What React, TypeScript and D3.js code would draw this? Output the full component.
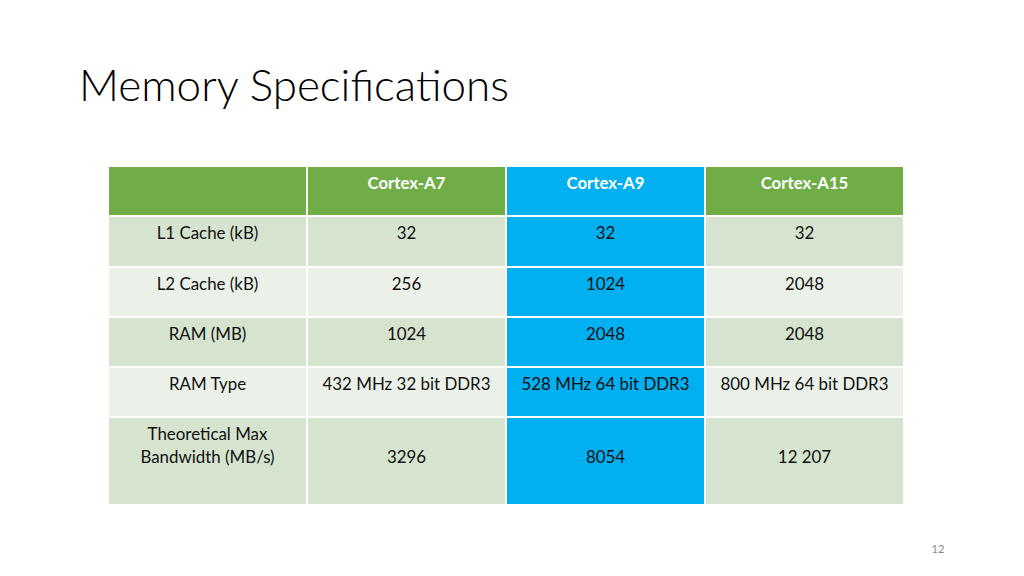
import React from "react";
import * as d3 from "d3";

const title = "Memory Specifications";
const columns = ["", "Cortex-A7", "Cortex-A9", "Cortex-A15"];
const rowLabels = [["L1 Cache (kB)"], ["L2 Cache (kB)"], ["RAM (MB)"], ["RAM Type"], ["Theoretical Max", "Bandwidth (MB/s)"]];
const cortexA7 = ["32", "256", "1024", "432 MHz 32 bit DDR3", "3296"];
const cortexA9 = ["32", "1024", "2048", "528 MHz 64 bit DDR3", "8054"];
const cortexA15 = ["32", "2048", "2048", "800 MHz 64 bit DDR3", "12 207"];
const pageNumber = "12";

const W = 1024, H = 576;
const FONT = "Lato, 'Open Sans', sans-serif";

export default function App() {
  const x = d3.scaleBand<string>().domain(columns.map((c, i) => String(i))).range([108, 904]).paddingInner(0);
  const rowH = [50, 51, 50, 50, 50, 88];
  const tops: number[] = [];
  let acc = 166;
  rowH.forEach((h) => { tops.push(acc); acc += h; });
  const values = [cortexA7, cortexA9, cortexA15];
  const green = "#70AD47";
  const blue = "#00B0F0";
  const rowFill = (r: number) => (r % 2 === 0 ? "#D5E3CF" : "#EBF1E9");

  const cells: React.ReactNode[] = [];
  columns.forEach((c, ci) => {
    const x0 = x(String(ci))!;
    cells.push(
      <rect key={"h" + ci} x={x0} y={tops[0]} width={x.bandwidth()} height={rowH[0]} fill={ci === 2 ? blue : green} stroke="#fff" strokeWidth={2} />
    );
    if (c)
      cells.push(
        <text key={"ht" + ci} x={x0 + x.bandwidth() / 2} y={tops[0] + 17} dy="0.35em" textAnchor="middle" fill="#fff" fontWeight={700} fontSize={16.8} fontFamily={FONT}>{c}</text>
      );
  });
  rowLabels.forEach((lab, r) => {
    const top = tops[r + 1];
    const h = rowH[r + 1];
    for (let ci = 0; ci < 4; ci++) {
      const x0 = x(String(ci))!;
      cells.push(
        <rect key={`c${r}-${ci}`} x={x0} y={top} width={x.bandwidth()} height={h} fill={ci === 2 ? blue : rowFill(r)} stroke="#fff" strokeWidth={2} />
      );
      const cx = x0 + x.bandwidth() / 2;
      if (ci === 0) {
        lab.forEach((line, li) => {
          cells.push(
            <text key={`l${r}-${li}`} x={cx} y={top + 17.5 + li * 23} dy="0.35em" textAnchor="middle" fill="#111" fontSize={16.9} fontFamily={FONT}>{line}</text>
          );
        });
      } else {
        const v = values[ci - 1][r];
        const yy = lab.length > 1 ? top + 40.5 : top + 17.5;
        cells.push(
          <text key={`v${r}-${ci}`} x={cx} y={yy} dy="0.35em" textAnchor="middle" fill="#111" fontSize={16.9} fontFamily={FONT}>{v}</text>
        );
      }
    }
  });

  return (
    <svg width={W} height={H} style={{ position: "absolute", left: 0, top: 0, background: "#fff" }}>
      <rect x={0} y={0} width={W} height={H} fill="#fff" />
      <text x={79} y={101} fontSize={44} fontWeight={300} fontFamily={FONT} fill="#000">{title}</text>
      {cells}
      <text x={938} y={549} dy="0.35em" textAnchor="middle" fontSize={11} fill="#8a8a8a" fontFamily={FONT}>{pageNumber}</text>
    </svg>
  );
}
